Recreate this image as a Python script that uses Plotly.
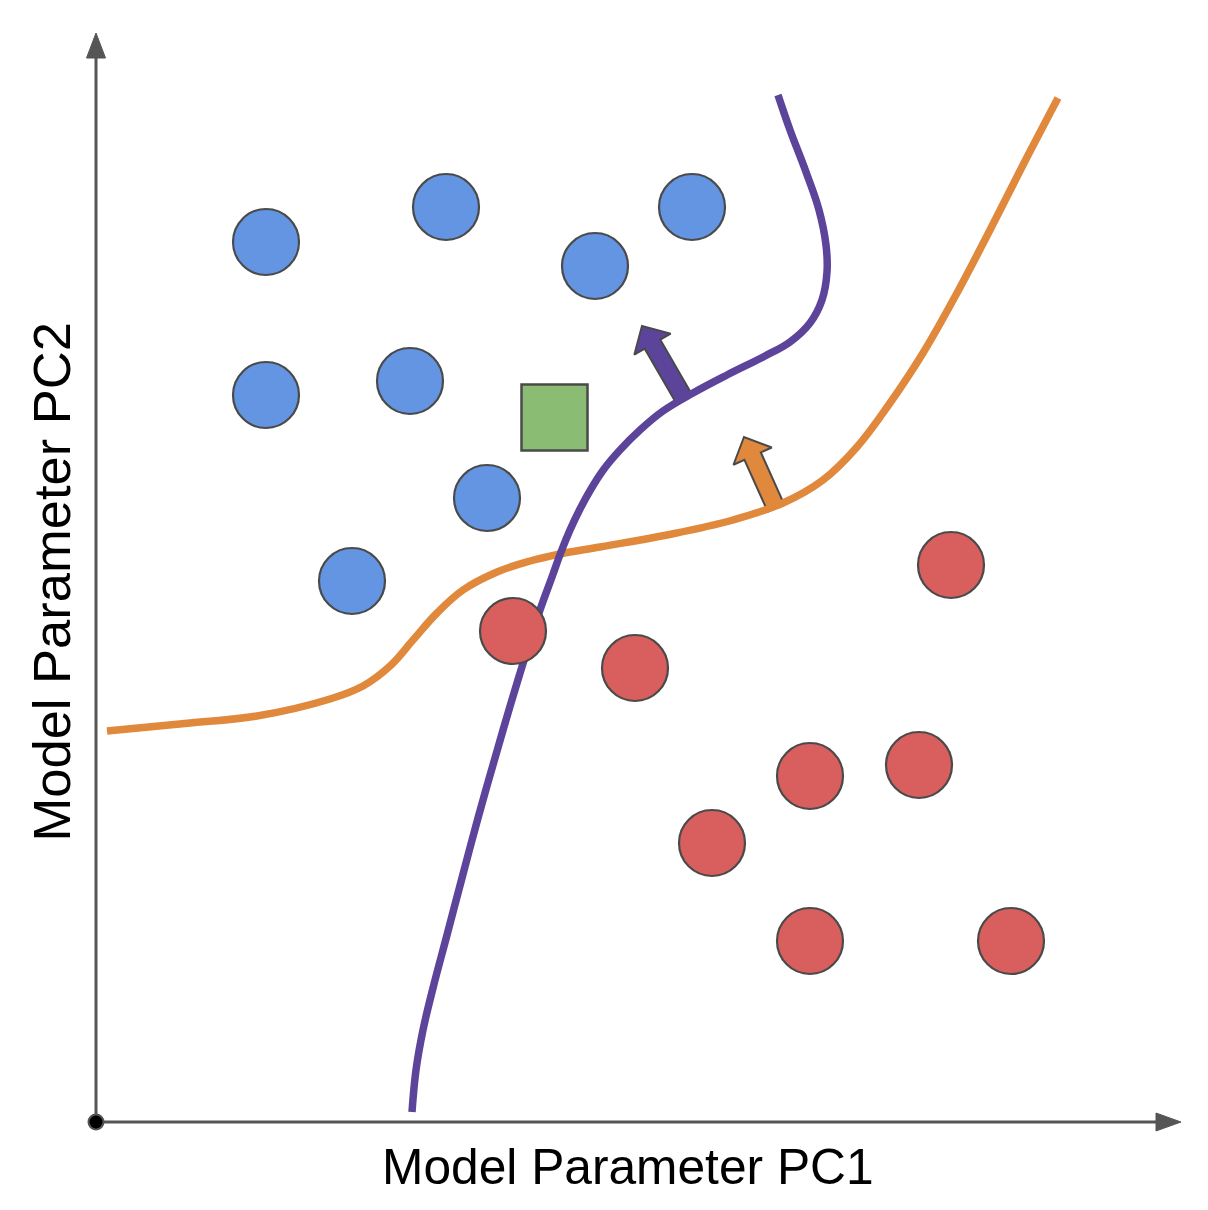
import numpy as np
import plotly.graph_objects as go

# ---- data (pixel-space coordinates: x right, y down) ----
blue_x = [266, 446, 692, 595, 266, 410, 487, 352]
blue_y = [242, 207, 207, 266, 395, 381, 498, 581]

red_x = [513, 635, 951, 810, 919, 712, 810, 1011]
red_y = [631, 668, 565, 776, 765, 843, 941, 941]

green_x = [554.5]
green_y = [417.5]

purple_x = [412, 416, 423, 433, 447, 462, 478, 495, 511, 525, 540, 552, 561, 570,
            580, 591, 604, 620, 640, 663, 693, 727, 765, 790, 810, 822, 827, 826,
            819, 806, 790, 778]
purple_y = [1112, 1070, 1030, 988, 935, 878, 818, 758, 703, 657, 610, 577, 552, 530,
            509, 489, 469, 450, 430, 411, 393, 375, 356, 342, 323, 300, 272, 245,
            210, 172, 130, 95]

orange_x = [107, 190, 257, 330, 363, 390, 413, 437, 463, 497, 530, 560, 600, 667,
            733, 783, 823, 857, 890, 923, 957, 990, 1023, 1058]
orange_y = [731, 723, 716, 699, 686, 666, 640, 613, 590, 572, 561, 554, 547, 535,
            520, 503, 480, 447, 403, 353, 293, 230, 165, 98]

# arrows: (base, tip)
purple_arrow = [(683, 397), (642, 326)]
orange_arrow = [(776, 508), (744, 437)]

origin = (96, 1122)
x_axis_end = 1181
y_axis_end = 33

x_label = "Model Parameter PC1"
y_label = "Model Parameter PC2"

# ---- colours ----
BLUE = "#6495E2"
RED = "#D95F5E"
GREEN = "#8BBC73"
PURPLE = "#5B449A"
ORANGE = "#E0893C"
OUTLINE = "#4A4A4A"
AXIS = "#555555"

PAGE_OFFSET = 8  # browser body margin


def arrow_polygon(base, tip, shaft_w=18, head_w=42, head_len=21):
    b = np.array(base, float)
    t = np.array(tip, float)
    d = t - b
    u = d / np.linalg.norm(d)
    n = np.array([-u[1], u[0]])
    hb = t - u * head_len
    pts = [
        b + n * shaft_w / 2,
        hb + n * shaft_w / 2,
        hb + n * head_w / 2,
        t,
        hb - n * head_w / 2,
        hb - n * shaft_w / 2,
        b - n * shaft_w / 2,
        b + n * shaft_w / 2,
    ]
    return [p[0] for p in pts], [p[1] for p in pts]


fig = go.Figure()

# axes
ox, oy = origin
fig.add_trace(go.Scatter(x=[ox, x_axis_end - 24], y=[oy, oy], mode="lines",
                         line=dict(color=AXIS, width=3), hoverinfo="skip"))
fig.add_trace(go.Scatter(x=[ox, ox], y=[oy, y_axis_end + 24], mode="lines",
                         line=dict(color=AXIS, width=3), hoverinfo="skip"))
fig.add_trace(go.Scatter(x=[x_axis_end - 25, x_axis_end, x_axis_end - 25, x_axis_end - 25],
                         y=[oy - 9, oy, oy + 9, oy - 9], mode="lines", fill="toself",
                         fillcolor=AXIS, line=dict(color=AXIS, width=1), hoverinfo="skip"))
fig.add_trace(go.Scatter(x=[ox - 9.5, ox, ox + 9.5, ox - 9.5],
                         y=[y_axis_end + 25, y_axis_end, y_axis_end + 25, y_axis_end + 25],
                         mode="lines", fill="toself",
                         fillcolor=AXIS, line=dict(color=AXIS, width=1), hoverinfo="skip"))
fig.add_trace(go.Scatter(x=[ox], y=[oy], mode="markers",
                         marker=dict(size=15, color="black", line=dict(color=AXIS, width=2)),
                         hoverinfo="skip"))

# arrows
for (base, tip), col in [(purple_arrow, PURPLE), (orange_arrow, ORANGE)]:
    ax_, ay_ = arrow_polygon(base, tip)
    fig.add_trace(go.Scatter(x=ax_, y=ay_, mode="lines", fill="toself", fillcolor=col,
                             line=dict(color=OUTLINE, width=2), hoverinfo="skip"))

# curves
fig.add_trace(go.Scatter(x=orange_x, y=orange_y, mode="lines",
                         line=dict(color=ORANGE, width=7.5, shape="spline", smoothing=1.1)))
fig.add_trace(go.Scatter(x=purple_x, y=purple_y, mode="lines",
                         line=dict(color=PURPLE, width=7.5, shape="spline", smoothing=1.1)))

# points
fig.add_trace(go.Scatter(x=blue_x, y=blue_y, mode="markers",
                         marker=dict(size=66, color=BLUE, line=dict(color=OUTLINE, width=2.2))))
fig.add_trace(go.Scatter(x=red_x, y=red_y, mode="markers",
                         marker=dict(size=66, color=RED, line=dict(color=OUTLINE, width=2.2))))
fig.add_trace(go.Scatter(x=green_x, y=green_y, mode="markers",
                         marker=dict(size=66, symbol="square", color=GREEN,
                                     line=dict(color=OUTLINE, width=2.5))))

# labels
fig.add_annotation(x=627.5, y=1167, text=x_label, showarrow=False,
                   font=dict(family="Liberation Sans, Arial", size=49.7, color="black"),
                   xanchor="center", yanchor="middle")
fig.add_annotation(x=51, y=582.5, text=y_label, showarrow=False, textangle=-90,
                   font=dict(family="Liberation Sans, Arial", size=52.5, color="black"),
                   xanchor="center", yanchor="middle")

fig.update_layout(
    width=1208, height=1210,
    margin=dict(l=0, r=0, t=0, b=0),
    paper_bgcolor="white", plot_bgcolor="white",
    showlegend=False,
    xaxis=dict(range=[PAGE_OFFSET, 1208 + PAGE_OFFSET], visible=False, fixedrange=True),
    yaxis=dict(range=[1210 + PAGE_OFFSET, PAGE_OFFSET], visible=False, fixedrange=True),
)

fig.write_html("out.html")
